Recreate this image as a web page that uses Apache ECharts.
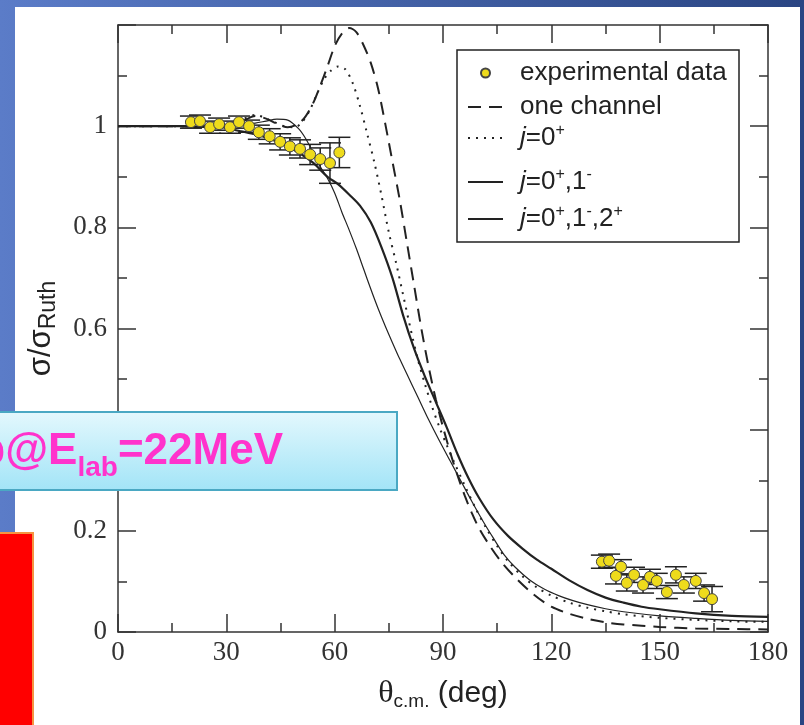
<!DOCTYPE html>
<html>
<head>
<meta charset="utf-8">
<script src="https://cdn.jsdelivr.net/npm/echarts@6/dist/echarts.min.js"></script>
<style>
  html, body { margin: 0; padding: 0; background: #fff; }
  #chart { width: 804px; height: 725px; }
</style>
</head>
<body>
<div id="chart"></div>
<script>
// Scattering angle ticks (deg) and ratio ticks
const xTicks = [0, 30, 60, 90, 120, 150, 180];
const yTicks = [0, 0.2, 0.4, 0.6, 0.8, 1.0, 1.2];

// Measured angular distribution: angle (deg), sigma/sigma_Ruth, uncertainty
const expAngle = [20.2, 22.7, 25.5, 28.0, 31.0, 33.5, 36.3, 39.0, 42.0, 44.9, 47.6, 50.4, 53.2, 56.0, 58.7, 61.3,
                  134.0, 136.0, 137.9, 139.3, 140.9, 142.9, 145.4, 147.3, 149.2, 152.0, 154.5, 156.7, 160.0, 162.3, 164.5];
const expValue = [1.008, 1.010, 0.998, 1.004, 0.998, 1.008, 1.000, 0.988, 0.980, 0.969, 0.960, 0.955, 0.944, 0.935, 0.927, 0.948,
                  0.139, 0.141, 0.111, 0.129, 0.097, 0.113, 0.093, 0.109, 0.101, 0.079, 0.113, 0.093, 0.101, 0.077, 0.065];
const expError = [0.012, 0.012, 0.012, 0.012, 0.012, 0.012, 0.012, 0.014, 0.015, 0.016, 0.017, 0.018, 0.02, 0.022, 0.04, 0.03,
                  0.013, 0.013, 0.016, 0.014, 0.016, 0.015, 0.016, 0.015, 0.015, 0.013, 0.016, 0.016, 0.015, 0.016, 0.025];

// Calculated curves: [angle, sigma/sigma_Ruth]
const oneChannel = [[0,1],[10,1],[20,1],[25,1.0],[30,1.002],[34,1.008],[38,1.02],[41,1.015],[44,1.005],[47,0.998],
  [50,1.005],[52,1.02],[54,1.045],[56,1.08],[58,1.118],[60,1.158],[62,1.183],[64,1.194],[66,1.186],[68,1.16],
  [70,1.125],[72,1.075],[74,1.005],[76,0.93],[78,0.855],[80,0.77],[82,0.685],[84,0.6],[86,0.525],[88,0.46],
  [90,0.405],[92,0.355],[94,0.31],[96,0.27],[98,0.235],[100,0.205],[103,0.17],[106,0.14],[110,0.108],[115,0.075],
  [120,0.05],[125,0.036],[130,0.026],[135,0.019],[140,0.015],[150,0.01],[160,0.007],[170,0.006],[180,0.005]];

const j0 = [[0,1],[10,1],[20,1],[25,1.0],[30,1.003],[34,1.012],[38,1.022],[42,1.012],[46,1.0],[49,0.998],
  [51,1.008],[53,1.03],[55,1.062],[57,1.092],[59,1.11],[61,1.118],[63,1.112],[65,1.085],[67,1.04],[69,0.985],
  [71,0.928],[73,0.862],[75,0.79],[77,0.73],[79,0.665],[81,0.6],[83,0.54],[85,0.49],[87,0.445],[89,0.405],
  [91,0.37],[93,0.337],[96,0.29],[99,0.245],[102,0.205],[105,0.17],[108,0.14],[112,0.11],[116,0.088],[120,0.072],
  [125,0.058],[130,0.048],[135,0.041],[140,0.035],[150,0.028],[160,0.024],[170,0.021],[180,0.02]];

const j01 = [[0,1],[10,1],[18,1.0],[22,0.998],[26,1.002],[30,0.996],[34,0.99],[38,0.984],[42,0.975],[46,0.963],
  [50,0.948],[54,0.928],[58,0.9],[61,0.885],[64,0.865],[67,0.843],[70,0.81],[73,0.76],[76,0.7],[79,0.625],
  [82,0.56],[85,0.505],[88,0.455],[91,0.405],[94,0.352],[97,0.305],[100,0.265],[104,0.222],[108,0.19],[112,0.165],
  [116,0.143],[120,0.125],[125,0.102],[130,0.083],[135,0.068],[140,0.058],[145,0.05],[150,0.045],[160,0.037],
  [170,0.032],[180,0.03]];

const j012 = [[0,1],[10,1],[20,1.0],[26,0.998],[30,1.0],[34,1.003],[38,1.006],[41,1.01],[44,1.014],[47,1.012],
  [50,0.995],[52,0.975],[54,0.948],[56,0.92],[58,0.897],[60,0.868],[62,0.83],[64,0.795],[66,0.758],[68,0.718],
  [70,0.678],[72,0.64],[74,0.605],[76,0.572],[78,0.54],[80,0.51],[83,0.465],[86,0.42],[89,0.378],[92,0.338],
  [95,0.298],[98,0.258],[101,0.22],[104,0.185],[107,0.152],[110,0.128],[114,0.103],[118,0.085],[122,0.072],
  [126,0.062],[130,0.054],[135,0.046],[140,0.04],[150,0.032],[160,0.027],[170,0.023],[180,0.021]];

const seriesNames = ['experimental data', 'one channel', 'j=0+', 'j=0+,1-', 'j=0+,1-,2+'];
const legendLabels = {
  'experimental data': '{g| }{n|experimental data}',
  'one channel': '{g| }{n|one channel}',
  'j=0+': '{g| }{i|j}{n|=0}{p|+}',
  'j=0+,1-': '{g| }{i|j}{n|=0}{p|+}{n|,1}{p|-}',
  'j=0+,1-,2+': '{g| }{i|j}{n|=0}{p|+}{n|,1}{p|-}{n|,2}{p|+}'
};
const legendCenters = [75, 109, 138, 182, 219];

const INK = '#222';
const sans = 'Liberation Sans, Arial, sans-serif';
const serif = 'Liberation Serif, Times New Roman, serif';

const legendRich = {
  n: { fontSize: 26, fontFamily: sans, color: INK },
  i: { fontSize: 26, fontFamily: sans, fontStyle: 'italic', color: INK },
  p: { fontSize: 16, fontFamily: sans, color: INK, padding: [0, 0, 14, 0] }
};

const legends = seriesNames.map((name, k) => {
  const isDot = k === 0;
  return {
    data: [name],
    selectedMode: false,
    left: isDot ? 480 : 467,
    top: legendCenters[k] - 15,
    padding: 0,
    itemWidth: isDot ? 9 : 35,
    itemHeight: isDot ? 9 : 14,
    itemStyle: isDot ? {} : { opacity: 0 },
    formatter: n => legendLabels[n],
    textStyle: { rich: Object.assign({}, legendRich, { g: { width: isDot ? 25 : 12 } }) }
  };
});

const chart = echarts.init(document.getElementById('chart'), null, { renderer: 'canvas' });

const axisLineStyle = { color: '#333', width: 1.5 };

const option = {
  animation: false,
  backgroundColor: {
    type: 'linear', x: 0, y: 0, x2: 1, y2: 0,
    colorStops: [{ offset: 0, color: '#5b7cc8' }, { offset: 1, color: '#2a4583' }]
  },
  grid: { left: 118, top: 25, width: 650, height: 607 },
  legend: legends,
  xAxis: [{
    type: 'value', min: xTicks[0], max: xTicks[xTicks.length - 1], interval: 30,
    axisLine: { onZero: false, lineStyle: axisLineStyle },
    axisTick: { inside: true, length: 18, lineStyle: axisLineStyle },
    minorTick: { show: true, splitNumber: 2, length: 9, lineStyle: axisLineStyle },
    splitLine: { show: false },
    axisLabel: { margin: 7, fontFamily: serif, fontSize: 27, color: '#333' },
    name: '{t|θ}{s|c.m.}{d| (deg)}',
    nameLocation: 'middle', nameGap: 44,
    nameTextStyle: {
      rich: {
        t: { fontFamily: serif, fontSize: 32, color: INK },
        s: { fontFamily: sans, fontSize: 19, color: INK, padding: [16, 0, 0, 0] },
        d: { fontFamily: sans, fontSize: 30, color: INK }
      }
    }
  }, {
    type: 'value', position: 'top', min: xTicks[0], max: xTicks[xTicks.length - 1], interval: 30,
    axisLine: { onZero: false, lineStyle: axisLineStyle },
    axisTick: { inside: true, length: 18, lineStyle: axisLineStyle },
    minorTick: { show: true, splitNumber: 2, length: 9, lineStyle: axisLineStyle },
    splitLine: { show: false }, axisLabel: { show: false }
  }],
  yAxis: [{
    type: 'value', min: yTicks[0], max: yTicks[yTicks.length - 1], interval: 0.2,
    axisLine: { show: true, onZero: false, lineStyle: axisLineStyle },
    axisTick: { show: true, inside: true, length: 18, lineStyle: axisLineStyle },
    minorTick: { show: true, splitNumber: 2, length: 9, lineStyle: axisLineStyle },
    splitLine: { show: false },
    axisLabel: {
      margin: 11, fontFamily: serif, fontSize: 27, color: '#333',
      formatter: v => (v > 1.1 ? '' : String(+v.toFixed(1)))
    },
    name: '{a|σ/σ}{s|Ruth}',
    nameLocation: 'middle', nameGap: 58, nameRotate: 90,
    nameTextStyle: {
      rich: {
        a: { fontFamily: sans, fontSize: 31, color: INK },
        s: { fontFamily: sans, fontSize: 23, color: INK, padding: [14, 0, 0, 0] }
      }
    }
  }, {
    type: 'value', position: 'right', min: yTicks[0], max: yTicks[yTicks.length - 1], interval: 0.2,
    axisLine: { show: true, onZero: false, lineStyle: axisLineStyle },
    axisTick: { show: true, inside: true, length: 18, lineStyle: axisLineStyle },
    minorTick: { show: true, splitNumber: 2, length: 9, lineStyle: axisLineStyle },
    splitLine: { show: false }, axisLabel: { show: false }
  }],
  graphic: [
    // white slide panel
    { type: 'rect', z: -10, shape: { x: 15, y: 7, width: 785, height: 720 }, style: { fill: '#ffffff' } },
    // legend frame
    { type: 'rect', z: 3, shape: { x: 457, y: 50, width: 282, height: 192 },
      style: { fill: '#ffffff', stroke: INK, lineWidth: 1.5 } },
    // beam energy banner
    { type: 'rect', z: 100, shape: { x: -6, y: 412, width: 403, height: 78 },
      style: {
        fill: { type: 'linear', x: 0, y: 0, x2: 0, y2: 1,
                colorStops: [{ offset: 0, color: '#e4f8fd' }, { offset: 1, color: '#a2e4f7' }] },
        stroke: '#4aa8c3', lineWidth: 2
      } },
    { type: 'text', z: 101, x: 283, y: 452,
      style: {
        text: '{m|p@E}{s|lab}{m|=22MeV}',
        textAlign: 'right', textVerticalAlign: 'middle',
        rich: {
          m: { fontFamily: sans, fontWeight: 'bold', fontSize: 44, fill: '#ff33cc' },
          s: { fontFamily: sans, fontWeight: 'bold', fontSize: 28, fill: '#ff33cc', padding: [32, 0, 0, 0] }
        }
      } },
    // red side block
    { type: 'rect', z: 100, shape: { x: -6, y: 533, width: 39, height: 200 },
      style: { fill: '#ff0000', stroke: '#f59441', lineWidth: 2 } }
  ],
  series: [
    { name: 'one channel', type: 'line', data: oneChannel, symbol: 'none', smooth: 0.3, z: 2,
      itemStyle: { color: INK }, lineStyle: { color: INK, width: 2, type: [13, 8] } },
    { name: 'j=0+', type: 'line', data: j0, symbol: 'none', smooth: 0.3, z: 2,
      itemStyle: { color: INK }, lineStyle: { color: INK, width: 2, type: [2, 6] } },
    { name: 'j=0+,1-', type: 'line', data: j01, symbol: 'none', smooth: 0.3, z: 2,
      itemStyle: { color: INK }, lineStyle: { color: INK, width: 2.2 } },
    { name: 'j=0+,1-,2+', type: 'line', data: j012, symbol: 'none', smooth: 0.3, z: 2,
      itemStyle: { color: INK }, lineStyle: { color: INK, width: 1.2 } },
    { name: 'error bars', type: 'custom', z: 3,
      data: expAngle.map((a, k) => [a, expValue[k], expError[k]]),
      encode: { x: 0, y: 1 },
      renderItem: (params, api) => {
        const a = api.value(0), v = api.value(1), e = api.value(2);
        const hi = api.coord([a, v + e]);
        const lo = api.coord([a, v - e]);
        const half = 11;
        const st = { stroke: INK, lineWidth: 1.5 };
        return {
          type: 'group',
          children: [
            { type: 'line', shape: { x1: hi[0], y1: hi[1], x2: lo[0], y2: lo[1] }, style: st },
            { type: 'line', shape: { x1: hi[0] - half, y1: hi[1], x2: hi[0] + half, y2: hi[1] }, style: st },
            { type: 'line', shape: { x1: lo[0] - half, y1: lo[1], x2: lo[0] + half, y2: lo[1] }, style: st }
          ]
        };
      } },
    { name: 'experimental data', type: 'scatter', z: 4,
      data: expAngle.map((a, k) => [a, expValue[k]]),
      symbol: 'circle', symbolSize: 11,
      itemStyle: { color: '#eedb1c', borderColor: '#444', borderWidth: 1, opacity: 1 } }
  ]
};

chart.setOption(option);
</script>
</body>
</html>
